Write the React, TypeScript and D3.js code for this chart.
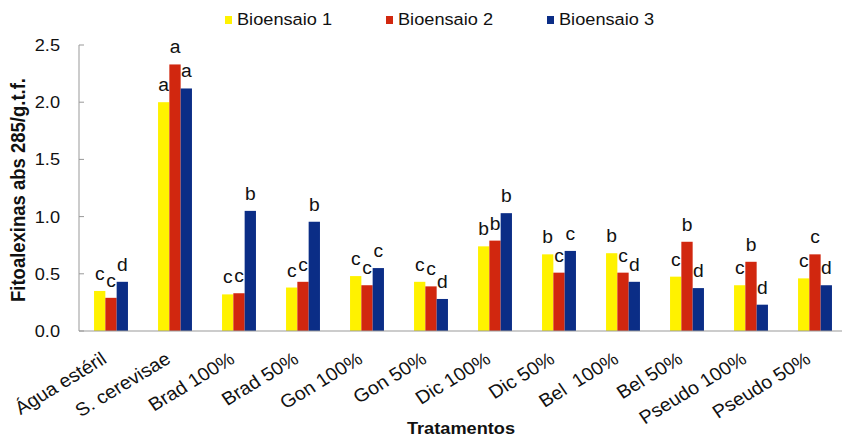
import React from "react";
import * as d3 from "d3";

const categories = ["Água estéril", "S. cerevisae", "Brad 100%", "Brad 50%", "Gon 100%", "Gon 50%", "Dic 100%", "Dic 50%", "Bel  100%", "Bel 50%", "Pseudo 100%", "Pseudo 50%"];
const seriesNames = ["Bioensaio 1", "Bioensaio 2", "Bioensaio 3"];
const bio1 = [0.35, 2.0, 0.32, 0.38, 0.48, 0.43, 0.74, 0.67, 0.68, 0.475, 0.40, 0.46];
const bio2 = [0.29, 2.33, 0.33, 0.43, 0.40, 0.39, 0.79, 0.51, 0.51, 0.78, 0.605, 0.67];
const bio3 = [0.43, 2.12, 1.05, 0.955, 0.55, 0.28, 1.03, 0.70, 0.43, 0.375, 0.23, 0.40];
const letters1 = ["c", "a", "c", "c", "c", "c", "b", "b", "b", "c", "c", "c"];
const letters2 = ["c", "a", "c", "c", "c", "c", "b", "c", "c", "b", "b", "c"];
const letters3 = ["d", "a", "b", "b", "c", "d", "b", "c", "d", "d", "d", "d"];
const yTicks = [0, 0.5, 1.0, 1.5, 2.0, 2.5];
const colors = ["#FFF200", "#D1270F", "#0B2D86"];

const SX = 1.07;

function T(props: { x: number; y: number; rot?: number; anchor?: string; size: number; bold?: boolean; dy?: string; children: React.ReactNode }) {
  const { x, y, rot = 0, anchor = "start", size, bold, dy, children } = props;
  return (
    <g transform={`translate(${x},${y}) scale(${SX},1) rotate(${rot})`}>
      <text x={0} y={0} dy={dy} textAnchor={anchor} fontSize={size} fontWeight={bold ? "bold" : "normal"} fill="#111" style={{ whiteSpace: "pre" }}>{children}</text>
    </g>
  );
}

export default function App() {
  const W = 842, H = 439;
  const left = 79, top = 45, bottom = 331;
  const x = d3.scaleBand<string>().domain(categories).range([left, left + 12 * 64]).paddingInner(0.47).paddingOuter(0.235);
  const xs = d3.scaleBand<string>().domain(seriesNames).range([0, x.bandwidth()]).padding(0);
  const y = d3.scaleLinear().domain([0, 2.5]).range([bottom, top]);
  const series = [bio1, bio2, bio3];
  const lets = [letters1, letters2, letters3];
  const font = "'Liberation Sans', Arial, Helvetica, sans-serif";
  const legendX = [225, 386, 547];
  return (
    <svg width={W} height={H} style={{ position: "absolute", left: 0, top: 0, background: "#fff" }} fontFamily={font}>
      {/* legend */}
      {seriesNames.map((s, i) => (
        <g key={s}>
          <rect x={legendX[i]} y={16} width={7} height={8} fill={colors[i]} />
          <T x={legendX[i] + 12} y={25} size={17}>{s}</T>
        </g>
      ))}
      {/* y axis */}
      <line x1={left} x2={left} y1={top} y2={bottom} stroke="#999" strokeWidth={1} />
      {yTicks.map((t) => (
        <g key={t}>
          <line x1={left} x2={left + 5} y1={y(t)} y2={y(t)} stroke="#999" />
          <T x={60} y={y(t)} dy="0.35em" anchor="end" size={17}>{d3.format(".1f")(t)}</T>
        </g>
      ))}
      <T x={25} y={(top + bottom) / 2 + 2} rot={-90} anchor="middle" size={18.5} bold>Fitoalexinas abs 285/g.t.f.</T>
      {/* bars */}
      {categories.map((c, ci) => (
        <g key={c}>
          {series.map((s, si) => {
            const bx = (x(c) as number) + (xs(seriesNames[si]) as number);
            return (
              <g key={si}>
                <rect x={bx} y={y(s[ci])} width={xs.bandwidth()} height={bottom - y(s[ci])} fill={colors[si]} />
                <T x={bx + xs.bandwidth() / 2} y={y(s[ci]) - 11} anchor="middle" size={18}>{lets[si][ci]}</T>
              </g>
            );
          })}
        </g>
      ))}
      {/* x axis */}
      <line x1={left} x2={W} y1={bottom} y2={bottom} stroke="#999" strokeWidth={1.2} />
      {categories.map((c) => {
        const cx = (x(c) as number) + x.bandwidth() / 2;
        return (
          <T key={c} x={cx - 3} y={362} rot={-33} anchor="end" size={18.5}>{c}</T>
        );
      })}
      <T x={461} y={434} anchor="middle" size={17} bold>Tratamentos</T>
    </svg>
  );
}
